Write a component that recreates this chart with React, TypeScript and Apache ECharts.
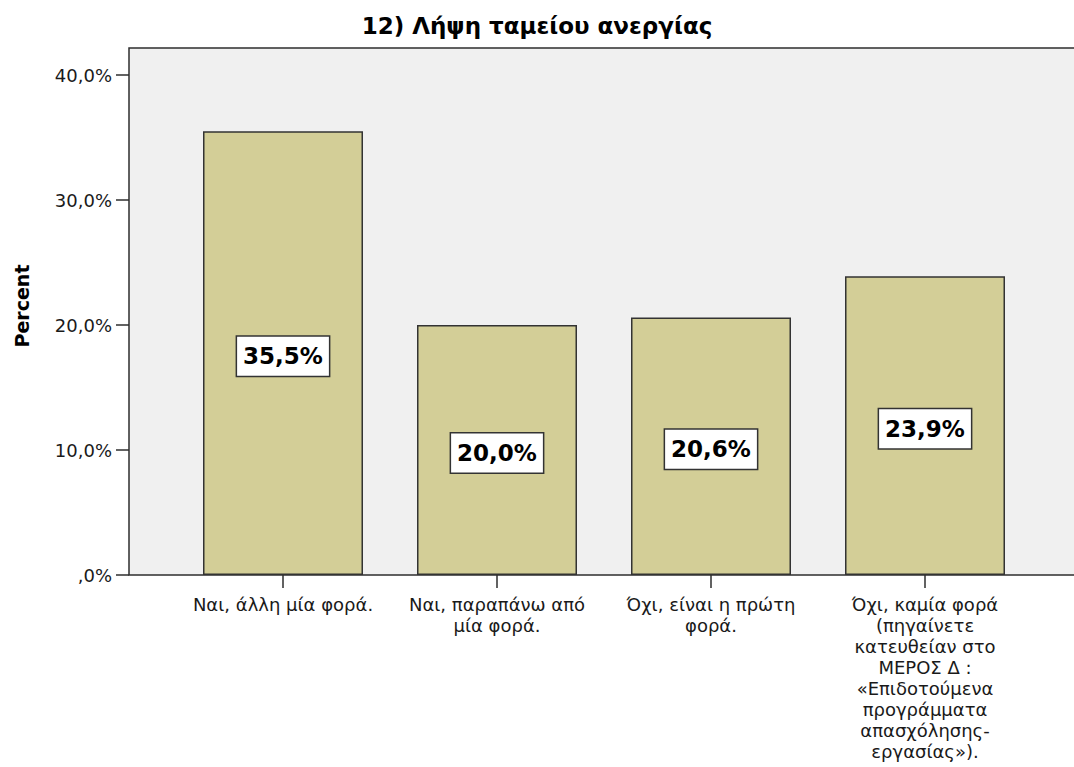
import React, { useEffect, useRef } from "react";
import * as echarts from "echarts";

const categories: string[] = [
  "Ναι, άλλη μία φορά.",
  "Ναι, παραπάνω από\nμία φορά.",
  "Όχι, είναι η πρώτη\nφορά.",
  "Όχι, καμία φορά\n(πηγαίνετε\nκατευθείαν στο\nΜΕΡΟΣ Δ :\n«Επιδοτούμενα\nπρογράμματα\nαπασχόλησης-\nεργασίας»).",
];
const percents: number[] = [35.5, 20.0, 20.6, 23.9];
const yTicks: number[] = [0, 10, 20, 30, 40];
const titleText = "12) Λήψη ταμείου ανεργίας";
const yAxisTitle = "Percent";

const FONT = '"DejaVu Sans", "Noto Sans", sans-serif';

const fmtPct = (v: number) => (v === 0 ? ",0%" : v.toFixed(1).replace(".", ",") + "%");

export default function App() {
  const ref = useRef<HTMLDivElement>(null);
  useEffect(() => {
    if (!ref.current) return;
    const chart = echarts.init(ref.current, undefined, { renderer: "svg" });
    chart.setOption({
      animation: false,
      backgroundColor: "#ffffff",
      title: {
        text: titleText,
        left: "center",
        top: 9,
        textStyle: { fontFamily: FONT, fontWeight: "bold", fontSize: 23, color: "#000" },
      },
      grid: { left: 176, right: 42, top: 75, bottom: 192, containLabel: false },
      graphic: [
        {
          type: "rect",
          z: -10,
          silent: true,
          shape: { x: 129, y: 48, width: 1000, height: 527 },
          style: { fill: "#f0f0f0", stroke: "#2e2e2e", lineWidth: 1.5 },
        },
        {
          type: "text",
          x: 22,
          y: 306,
          rotation: Math.PI / 2,
          silent: true,
          style: {
            text: yAxisTitle,
            align: "center",
            verticalAlign: "middle",
            fontFamily: FONT,
            fontWeight: "bold",
            fontSize: 19,
            fill: "#000",
          },
        },
      ],
      xAxis: {
        type: "category",
        data: categories,
        axisLine: { show: false },
        axisTick: { show: true, alignWithLabel: true, length: 13, lineStyle: { color: "#2e2e2e", width: 1.5 } },
        axisLabel: {
          interval: 0,
          margin: 19,
          fontFamily: FONT,
          fontSize: 18,
          lineHeight: 21,
          color: "#1a1a1a",
        },
        splitLine: { show: false },
      },
      yAxis: {
        type: "value",
        min: yTicks[0],
        max: yTicks[yTicks.length - 1],
        interval: 10,
        offset: 47,
        axisLine: { show: false },
        axisTick: { show: true, length: 13, lineStyle: { color: "#2e2e2e", width: 1.5 } },
        axisLabel: {
          margin: 17,
          fontFamily: FONT,
          fontSize: 18,
          color: "#1a1a1a",
          formatter: (v: number) => fmtPct(v),
        },
        splitLine: { show: false },
      },
      series: [
        {
          type: "bar",
          data: percents,
          barWidth: 160,
          itemStyle: { color: "#d3ce97", borderColor: "#333", borderWidth: 1.5 },
          label: {
            show: true,
            position: "inside",
            offset: [0, 3],
            formatter: (p: any) => fmtPct(p.value),
            fontFamily: FONT,
            fontWeight: "bold",
            fontSize: 23,
            lineHeight: 27,
            color: "#000",
            backgroundColor: "#ffffff",
            borderColor: "#333",
            borderWidth: 1.5,
            padding: [6, 6, 6, 6],
          },
        },
      ],
    });
    return () => chart.dispose();
  }, []);
  return (
    <div
      ref={ref}
      style={{ position: "absolute", left: 0, top: 0, width: 1074, height: 767, background: "#fff" }}
    />
  );
}
